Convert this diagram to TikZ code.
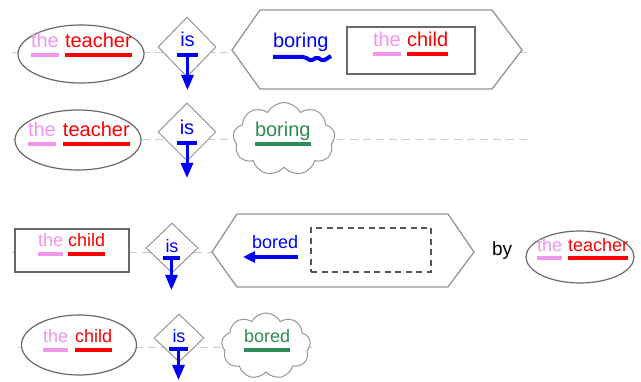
\documentclass[tikz,border=0pt]{standalone}
\usepackage{fontspec}
\setmainfont{Liberation Sans}
\usetikzlibrary{shapes.geometric,shapes.symbols,arrows.meta}
\definecolor{thepink}{RGB}{240,150,235}
\definecolor{nounred}{RGB}{250,0,0}
\definecolor{verbblue}{RGB}{0,0,250}
\definecolor{adjgreen}{RGB}{46,139,87}
\definecolor{shapegrey}{RGB}{105,105,105}
\definecolor{lightgrey}{RGB}{150,150,150}
\definecolor{guide}{RGB}{205,205,205}
\definecolor{dashgrey}{RGB}{85,85,85}
\newcommand\wordbar[3]{\draw[line width=4pt,#1] ([yshift=-#3pt]#2.base west) -- ([yshift=-#3pt]#2.base east);}
\begin{document}
\begin{tikzpicture}[x=1pt,y=-1pt,
  big/.style={font=\fontsize{20}{24}\selectfont},
  small/.style={font=\fontsize{18}{22}\selectfont},
  word/.style={inner sep=0pt, outer sep=0pt, anchor=base west},
  guideline/.style={draw=guide, line width=1pt, dash pattern=on 8pt off 5pt},
  ovalbox/.style={ellipse, draw=shapegrey, line width=1.2pt, fill=white, inner sep=0pt},
  diabox/.style={diamond, draw=lightgrey, line width=1pt, fill=white, inner sep=0pt},
  recbox/.style={rectangle, draw=shapegrey, line width=1.2pt, fill=white, inner sep=0pt},
  cloudbox/.style={cloud, cloud puffs=9, cloud puff arc=125, aspect=1.4, draw=lightgrey, line width=1pt, fill=white, inner sep=0pt},
  hexline/.style={draw=lightgrey, line width=1.3pt, fill=white},
  tbar/.style={verbblue, line width=4pt},
  tstem/.style={verbblue, line width=3pt, -{Triangle[width=12pt,length=15pt]}},
  leftarrow/.style={verbblue, line width=4.5pt, -{Triangle[width=11pt,length=12pt]}}
]
\useasboundingbox[fill=white] (0,0) rectangle (641,382);

% guide lines
\coordinate (g1a) at (12,53);  \coordinate (g1b) at (530,53);
\coordinate (g2a) at (12,140); \coordinate (g2b) at (530,140);
\coordinate (g3a) at (12,253); \coordinate (g3b) at (480,253);
\coordinate (g4a) at (18,348); \coordinate (g4b) at (317,348);
\draw[guideline] (g1a) -- (g1b);
\draw[guideline] (g2a) -- (g2b);
\draw[guideline] (g3a) -- (g3b);
\draw[guideline] (g4a) -- (g4b);

% ---------- row 1 ----------
\node[ovalbox, minimum width=126pt, minimum height=58pt] (e1) at (81,54) {};
\node[diabox, minimum width=58pt, minimum height=60pt] (d1) at (187,47) {};
\coordinate (h1a) at (232,50); \coordinate (h1b) at (260,10); \coordinate (h1c) at (492,10);
\coordinate (h1d) at (522,50); \coordinate (h1e) at (492,89); \coordinate (h1f) at (260,89);
\draw[hexline] (h1a) -- (h1b) -- (h1c) -- (h1d) -- (h1e) -- (h1f) -- cycle;
\node[recbox, minimum width=128pt, minimum height=47pt] (r1) at (411,50.5) {};

\node[word, big, text=thepink] (the1) at (31,48) {the};
\node[word, big, text=nounred] (tea1) at (65,48) {teacher};
\wordbar{thepink}{the1}{7.5}
\wordbar{nounred}{tea1}{7.5}

\node[big, inner sep=0pt, anchor=base, text=verbblue] (is1) at (187.5,47) {is};
\coordinate (tb1l) at (177,55); \coordinate (tb1r) at (198,55);
\coordinate (tb1m) at (187.5,55); \coordinate (ar1) at (187.5,90);
\draw[tbar] (tb1l) -- (tb1r);
\draw[tstem] (tb1m) -- (ar1);

\node[word, big, text=verbblue] (bor1) at (273,48) {boring};
\coordinate (w1a) at (273,57); \coordinate (w1b) at (305,57); \coordinate (w1c) at (311,61);
\coordinate (w1d) at (317,57); \coordinate (w1e) at (323,61); \coordinate (w1f) at (331,56);
\draw[verbblue, line width=4pt, line join=round, rounded corners=2pt] (w1a) -- (w1b) -- (w1c) -- (w1d) -- (w1e) -- (w1f);

\node[word, big, text=thepink] (the2) at (373,47) {the};
\node[word, big, text=nounred] (chi1) at (407,47) {child};
\wordbar{thepink}{the2}{7}
\wordbar{nounred}{chi1}{7}

% ---------- row 2 ----------
\node[ovalbox, minimum width=126pt, minimum height=60pt] (e2) at (78,140) {};
\node[diabox, minimum width=58pt, minimum height=58pt] (d2) at (187,132) {};
\node[cloudbox, minimum width=102pt, minimum height=73pt] (c2) at (284,139) {};

\node[word, big, text=thepink] (the3) at (28,137) {the};
\node[word, big, text=nounred] (tea2) at (63,137) {teacher};
\wordbar{thepink}{the3}{7}
\wordbar{nounred}{tea2}{7}

\node[big, inner sep=0pt, anchor=base, text=verbblue] (is2) at (187,135) {is};
\coordinate (tb2l) at (177,143); \coordinate (tb2r) at (197,143);
\coordinate (tb2m) at (187,143); \coordinate (ar2) at (187,178);
\draw[tbar] (tb2l) -- (tb2r);
\draw[tstem] (tb2m) -- (ar2);

\node[word, big, text=adjgreen] (bor2) at (255,137) {boring};
\wordbar{adjgreen}{bor2}{7}

% ---------- row 3 ----------
\node[recbox, minimum width=114pt, minimum height=43pt] (r3) at (72,250.5) {};
\node[diabox, minimum width=52pt, minimum height=50pt] (d3) at (172,248) {};
\coordinate (h3a) at (212,252); \coordinate (h3b) at (237,214); \coordinate (h3c) at (448,214);
\coordinate (h3d) at (474,252); \coordinate (h3e) at (448,287); \coordinate (h3f) at (237,287);
\draw[hexline] (h3a) -- (h3b) -- (h3c) -- (h3d) -- (h3e) -- (h3f) -- cycle;
\node[draw=dashgrey, line width=1.3pt, dash pattern=on 6pt off 4.5pt, minimum width=120pt, minimum height=44pt, inner sep=0pt] (slot) at (371,250) {};

\node[word, small, text=thepink] (the4) at (38,247) {the};
\node[word, small, text=nounred] (chi2) at (68,247) {child};
\wordbar{thepink}{the4}{7}
\wordbar{nounred}{chi2}{7}

\node[small, inner sep=0pt, anchor=base, text=verbblue] (is3) at (172,253) {is};
\coordinate (tb3l) at (163,258); \coordinate (tb3r) at (180,258);
\coordinate (tb3m) at (171.5,258); \coordinate (ar3) at (171.5,290);
\draw[tbar] (tb3l) -- (tb3r);
\draw[tstem] (tb3m) -- (ar3);

\node[word, small, text=verbblue] (bored1) at (252,249) {bored};
\coordinate (la1) at (298,257); \coordinate (la2) at (243,257);
\draw[leftarrow] (la1) -- (la2);

\node[word, font=\fontsize{19}{23}\selectfont, text=black] (by) at (492,256) {by};

\node[ovalbox, minimum width=108pt, minimum height=52pt] (e3) at (580,257) {};
\node[word, small, text=thepink] (the5) at (537,252) {the};
\node[word, small, text=nounred] (tea3) at (568,252) {teacher};
\wordbar{thepink}{the5}{6.5}
\wordbar{nounred}{tea3}{6.5}

% ---------- row 4 ----------
\node[ovalbox, minimum width=115pt, minimum height=60pt] (e4) at (79,345) {};
\node[diabox, minimum width=50pt, minimum height=48pt] (d4) at (179,338) {};
\node[cloudbox, minimum width=89pt, minimum height=66pt] (c4) at (266,346) {};

\node[word, small, text=thepink] (the6) at (43,343) {the};
\node[word, small, text=nounred] (chi3) at (75,343) {child};
\wordbar{thepink}{the6}{7}
\wordbar{nounred}{chi3}{7}

\node[small, inner sep=0pt, anchor=base, text=verbblue] (is4) at (179,343) {is};
\coordinate (tb4l) at (169,349); \coordinate (tb4r) at (188,349);
\coordinate (tb4m) at (178.5,349); \coordinate (ar4) at (178.5,380);
\draw[tbar] (tb4l) -- (tb4r);
\draw[tstem] (tb4m) -- (ar4);

\node[word, small, text=adjgreen] (bored2) at (244,343) {bored};
\wordbar{adjgreen}{bored2}{7}
\end{tikzpicture}
\end{document}
